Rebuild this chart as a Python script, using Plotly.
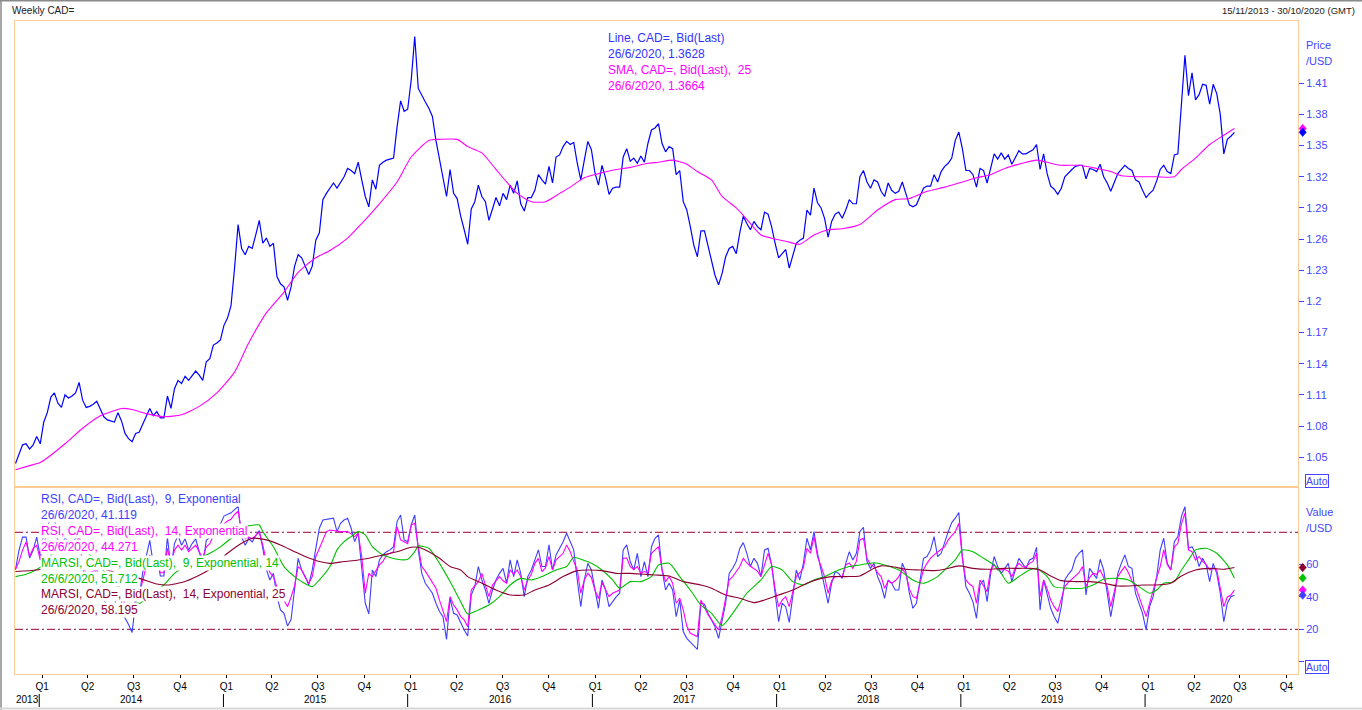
import pandas as pd
import plotly.graph_objects as go

# ---------------- data ----------------
START = "2013-11-15"            # first weekly bar
X_START, X_END = "2013-11-14", "2020-10-30"

# weekly close of CAD= (USD/CAD), 15/11/2013 ... 26/6/2020
price_close = [
    1.044, 1.054, 1.062, 1.063, 1.058, 1.062, 1.070, 1.063, 1.084, 1.093,
    1.108, 1.112, 1.102, 1.098, 1.110, 1.107, 1.109, 1.112, 1.122, 1.105,
    1.098, 1.099, 1.101, 1.104, 1.097, 1.089, 1.086, 1.085, 1.084, 1.093,
    1.085, 1.073, 1.068, 1.065, 1.073, 1.074, 1.082, 1.090, 1.097, 1.090,
    1.094, 1.088, 1.088, 1.109, 1.097, 1.116, 1.124, 1.121, 1.128, 1.124,
    1.128, 1.133, 1.129, 1.124, 1.142, 1.145, 1.158, 1.160, 1.163, 1.177,
    1.184, 1.196, 1.232, 1.274, 1.251, 1.245, 1.253, 1.251, 1.264, 1.278,
    1.256, 1.261, 1.253, 1.256, 1.224, 1.217, 1.214, 1.201, 1.214, 1.234,
    1.245, 1.242, 1.234, 1.226, 1.234, 1.259, 1.266, 1.298, 1.304, 1.309,
    1.314, 1.309, 1.315, 1.320, 1.328, 1.326, 1.323, 1.334, 1.317, 1.301,
    1.291, 1.317, 1.308, 1.331, 1.334, 1.336, 1.337, 1.338, 1.368, 1.393,
    1.383, 1.385, 1.413, 1.455, 1.405, 1.398, 1.392, 1.386, 1.378, 1.355,
    1.336, 1.320, 1.301, 1.327, 1.304, 1.299, 1.282, 1.269, 1.255, 1.289,
    1.296, 1.312, 1.301, 1.296, 1.278, 1.289, 1.300, 1.292, 1.304, 1.298,
    1.312, 1.304, 1.316, 1.294, 1.287, 1.300, 1.300, 1.307, 1.322, 1.317,
    1.313, 1.330, 1.314, 1.339, 1.341, 1.349, 1.354, 1.351, 1.353, 1.333,
    1.317, 1.336, 1.354, 1.346, 1.324, 1.312, 1.331, 1.319, 1.303, 1.309,
    1.310, 1.310, 1.339, 1.347, 1.335, 1.338, 1.333, 1.340, 1.334, 1.352,
    1.365, 1.367, 1.371, 1.352, 1.344, 1.349, 1.347, 1.322, 1.326, 1.296,
    1.288, 1.272, 1.254, 1.243, 1.268, 1.268, 1.253, 1.240, 1.225, 1.216,
    1.227, 1.243, 1.251, 1.253, 1.246, 1.266, 1.282, 1.275, 1.269, 1.277,
    1.272, 1.269, 1.286, 1.284, 1.272, 1.256, 1.242, 1.246, 1.250, 1.232,
    1.243, 1.256, 1.259, 1.261, 1.288, 1.283, 1.309, 1.295, 1.290, 1.280,
    1.262, 1.277, 1.284, 1.286, 1.280, 1.288, 1.298, 1.294, 1.294, 1.320,
    1.326, 1.315, 1.309, 1.317, 1.315, 1.306, 1.301, 1.314, 1.307, 1.304,
    1.306, 1.315, 1.304, 1.293, 1.291, 1.293, 1.301, 1.309, 1.311, 1.311,
    1.322, 1.315, 1.325, 1.330, 1.333, 1.338, 1.355, 1.363, 1.347, 1.326,
    1.326, 1.322, 1.310, 1.328, 1.326, 1.314, 1.328, 1.342, 1.337, 1.343,
    1.337, 1.341, 1.332, 1.339, 1.345, 1.342, 1.342, 1.344, 1.346, 1.351,
    1.327, 1.342, 1.323, 1.311, 1.308, 1.303, 1.309, 1.320, 1.324, 1.327,
    1.330, 1.331, 1.331, 1.318, 1.328, 1.327, 1.325, 1.332, 1.320, 1.314,
    1.306, 1.314, 1.323, 1.327, 1.331, 1.328, 1.326, 1.317, 1.315, 1.307,
    1.300, 1.304, 1.307, 1.316, 1.327, 1.331, 1.325, 1.323, 1.341, 1.342,
    1.387, 1.437, 1.398, 1.420, 1.394, 1.399, 1.409, 1.408, 1.390, 1.409,
    1.400, 1.380, 1.342, 1.356, 1.359, 1.3628,
]

# 25-week simple moving average, read at selected weeks (week no. since 15/11/2013)
sma_weeks = [0, 4, 7, 10, 14, 19, 24, 28, 30, 33, 37, 42, 47, 52, 57, 62, 66, 71, 76, 80,
             85, 89, 94, 98, 103, 108, 112, 117, 120, 125, 128, 132, 136, 139, 142, 146, 150,
             154, 157, 161, 165, 170, 174, 179, 182, 186, 190, 193, 197, 200, 204, 207, 211,
             215, 218, 222, 226, 230, 234, 239, 244, 249, 253, 258, 263, 268, 272, 276, 280,
             285, 289, 293, 296, 301, 306, 310, 313, 318, 323, 328, 330, 334, 338, 342, 345]
sma_values = [1.038, 1.042, 1.045, 1.052, 1.063, 1.078, 1.090, 1.095, 1.097, 1.096, 1.092,
              1.089, 1.091, 1.099, 1.112, 1.132, 1.160, 1.189, 1.209, 1.228, 1.242, 1.249,
              1.261, 1.275, 1.294, 1.315, 1.339, 1.355, 1.356, 1.356, 1.349, 1.343, 1.327,
              1.315, 1.304, 1.296, 1.296, 1.304, 1.310, 1.319, 1.323, 1.327, 1.329, 1.333,
              1.334, 1.336, 1.332, 1.325, 1.317, 1.301, 1.290, 1.279, 1.264, 1.260, 1.258,
              1.255, 1.264, 1.269, 1.270, 1.274, 1.288, 1.298, 1.299, 1.306, 1.310, 1.315,
              1.319, 1.322, 1.328, 1.333, 1.336, 1.333, 1.331, 1.331, 1.328, 1.325, 1.321,
              1.320, 1.320, 1.320, 1.327, 1.338, 1.351, 1.360, 1.3664]

# weekly RSI(9) and RSI(14)
rsi9_values = [
    57, 69, 77, 77, 64, 69, 77, 65, 80, 84,
    88, 89, 75, 70, 77, 73, 74, 76, 81, 58,
    50, 51, 54, 57, 47, 38, 35, 34, 33, 48,
    38, 27, 23, 18, 37, 40, 55, 66, 75, 60,
    65, 53, 53, 77, 58, 73, 78, 72, 76, 69,
    73, 76, 68, 60, 75, 77, 83, 84, 85, 90,
    91, 92, 94, 96, 77, 72, 76, 74, 78, 81,
    70, 57, 50.5, 54.6, 40, 32, 29.9, 22, 26, 44.3,
    63.9, 56.7, 52.6, 47.4, 56.7, 70.1, 82.5, 87.6, 88, 88.7,
    88.7, 80.4, 85.6, 87.6, 88.7, 82.5, 74.2, 79.4, 56.7, 36.1,
    29.5, 56.7, 52.6, 62.9, 66, 68, 69.1, 71.1, 86.6, 90.7,
    75.3, 74.2, 84.5, 90.7, 69.1, 54.6, 48.5, 45.4, 42.3, 36.1,
    31, 27.8, 13.8, 39.2, 29.9, 28.9, 23.7, 19.6, 15.9, 41.2,
    46.4, 58.8, 50.5, 44.3, 36.1, 44.3, 50.5, 54.6, 57.7, 48.5,
    62.9, 52.6, 62.9, 54.6, 40.2, 52.6, 56.7, 62.9, 69.1, 58.8,
    58.8, 72.2, 56.7, 66, 70.1, 74.2, 79.4, 74.2, 69.1, 50.5,
    34, 50.5, 60.8, 56.7, 44.3, 33, 50.5, 44.3, 34, 37.1,
    40, 42.3, 69.1, 72.2, 61.9, 56.7, 67, 52.6, 61.9, 52.6,
    71.1, 76.3, 78.4, 56.7, 44.3, 48.5, 44.3, 27.8, 38.1, 18.6,
    14.4, 12, 10, 7.6, 36.1, 35.5, 30, 26, 21.6, 14.4,
    24.7, 36.1, 54.6, 57.7, 62, 70, 73.6, 67, 58.8, 63.9,
    60.8, 52.6, 69.1, 70.1, 59.8, 40.2, 24.7, 36.1, 34, 24.3,
    40.2, 56.7, 50.5, 60.8, 76.3, 69.1, 80.4, 67, 56.7, 47.4,
    36.1, 48.5, 55.7, 54.6, 51.5, 60.8, 68, 62.9, 67, 80.4,
    83.1, 61.9, 57.7, 60.8, 52.6, 47.4, 39.2, 50.5, 48.5, 44.3,
    44.3, 60.8, 55.7, 42.3, 33, 36.1, 50.5, 63.9, 65, 69.1,
    77.3, 65, 67, 74.2, 80.4, 86, 88.7, 92.2, 65, 46.4,
    42.3, 37, 26.8, 47.4, 50.5, 37.1, 54.6, 65, 58.8, 54.6,
    58, 60.8, 49.5, 56.7, 63.9, 60.8, 57.7, 62.9, 63.9, 70.7,
    32, 50.5, 42.3, 33, 27.8, 23.7, 34, 50.5, 54, 56.7,
    63.9, 67, 69.1, 41.2, 57.7, 54.6, 51.5, 63.3, 56.7, 42.3,
    27.8, 40.2, 54.6, 60.8, 66, 58.8, 57.7, 42.3, 36, 29.9,
    19.6, 34, 40.2, 52.6, 69.1, 76.3, 60.8, 56.7, 74.2, 77.3,
    89.7, 95.9, 70.1, 71.1, 67, 58.8, 63.9, 59.8, 49.5, 60.8,
    54.6, 42.3, 24.7, 36.1, 40.2, 41.119,
]
rsi14_values = [
    57, 62, 69, 74, 65, 70, 72, 63, 74, 78,
    82, 83, 74, 70, 74, 71, 72, 73, 77, 60,
    54, 55, 56, 57, 51, 45, 42, 41, 40, 49,
    43, 35, 31, 28, 39, 41, 51, 59, 66, 58,
    61, 55, 55, 70, 60, 69, 72, 69, 72, 68,
    70, 72, 68, 64, 71, 73, 78, 79, 80, 85,
    87, 88, 91, 93, 80, 76, 77, 76, 78, 80,
    72, 62, 55, 52.6, 46, 42.3, 38, 34, 40, 47,
    58.8, 56.7, 52, 48.5, 52.6, 65, 70, 75.3, 80.4, 81.4,
    81, 80.4, 80.4, 80.4, 80.4, 79, 77.3, 79.4, 65, 42.3,
    54.6, 52.6, 56, 59.8, 62, 66, 67, 68, 83.5, 75.3,
    74.2, 73, 84.5, 85.6, 71.1, 58.8, 56, 52.6, 49, 45.4,
    38, 32, 24.7, 40.2, 35, 32, 28, 25.8, 21.6, 44.3,
    47, 49.5, 54.6, 47.4, 40.2, 47.4, 50, 52.6, 50, 48.5,
    56.7, 54, 56.7, 52.6, 44.3, 50.5, 54, 60.8, 63.9, 55.7,
    58, 65, 56.7, 62.9, 65, 67, 72.2, 68, 62, 56.7,
    42.3, 50.5, 54.6, 52, 44.3, 39, 49, 45, 40.2, 42.3,
    43.5, 44.3, 63.9, 64, 58.8, 57, 58.8, 54.6, 55.7, 55,
    67, 69, 71.1, 56.7, 49.5, 52.6, 48.5, 36.1, 39.2, 32,
    22, 17.5, 16.5, 15.5, 38.1, 33, 29, 26, 22.5, 19.6,
    27.8, 40, 50.5, 52.6, 56, 58.8, 63.9, 61, 59, 57.7,
    56, 52.6, 60, 67, 60, 45, 34, 38, 40.2, 34,
    43.3, 52.6, 55, 58, 70.1, 67, 77.3, 65, 59, 52.6,
    42.3, 50, 52.6, 52.6, 52.6, 59.8, 61, 57.7, 62, 75.3,
    76.3, 63.9, 60, 58.8, 55, 52.6, 45.4, 50, 48.5, 50,
    52.6, 57, 54.6, 45, 40.2, 39.2, 48.5, 57, 60.8, 64,
    66, 68, 69.5, 71.1, 75.3, 78, 80.4, 85.6, 63.9, 50.5,
    48, 46.4, 36.1, 50.5, 47, 43.3, 56.7, 60, 56.7, 56.7,
    57, 56, 52.6, 58, 60.8, 58.8, 58.5, 60.8, 62, 67,
    40.2, 50.5, 45, 38.1, 34, 30.9, 38, 46.4, 49, 51,
    52.6, 55, 58.8, 46.4, 52, 54.6, 54, 56.7, 52, 46.4,
    34, 44, 52.6, 56, 58.8, 55, 50, 46.4, 40, 34,
    27.8, 36, 44.3, 52, 58.8, 69.1, 60, 56.7, 71, 73.2,
    85, 91.8, 69.1, 68, 62.9, 65, 62, 60, 56.7, 58,
    56.7, 45, 34, 40, 41.2, 44.271,
]

# MARSI(9, EMA 14) and MARSI(14, EMA 25), read at selected weeks
marsi9_weeks = [0, 3, 6, 8, 11, 14, 17, 20, 23, 26, 29, 32, 35, 38, 42, 45, 48, 51, 55, 58,
                61, 64, 66, 69, 70, 73, 76, 79, 81, 84, 86, 89, 91, 93, 95, 97, 99, 101, 104,
                108, 111, 113, 114, 117, 120, 123, 126, 128, 131, 134, 137, 140, 143, 146,
                149, 153, 156, 158, 161, 163, 166, 169, 171, 174, 177, 180, 182, 185, 188,
                191, 194, 197, 200, 203, 207, 211, 214, 217, 220, 223, 226, 229, 233, 236,
                239, 243, 246, 250, 254, 257, 261, 263, 266, 268, 271, 274, 277, 279, 281,
                284, 287, 289, 292, 294, 298, 302, 305, 308, 312, 315, 318, 321, 323, 325,
                328, 330, 332, 334, 337, 340, 343, 345]
marsi9_values = [52.6, 54, 57, 60, 68, 72, 73, 68, 62, 53, 46, 41, 36, 41, 47.4, 54.6, 59, 63,
                 67, 71, 76.3, 82, 84, 84.5, 80.4, 71, 58.8, 52.6, 49.5, 46.4, 50.5, 58.8, 69.1,
                 74.2, 77.3, 80.4, 78.4, 71.1, 66, 63.3, 63.3, 68, 71.5, 70.1, 60.8, 49.5, 37.1,
                 29.5, 32, 35, 40.2, 47.4, 51.5, 50.5, 52.6, 56.7, 58.8, 64.5, 62.5, 60.8, 56.7,
                 50.5, 45.4, 49.5, 49.5, 52.6, 59.8, 60.8, 52.6, 44.3, 35, 29.9, 22.3, 29.9,
                 42.3, 50.5, 58.8, 56.7, 49.5, 47.4, 50.5, 52.6, 56.7, 58.8, 59.8, 61.2, 59.8,
                 56.7, 50.5, 48.5, 52.6, 56.7, 62.9, 69.1, 68, 63.9, 59.8, 54.6, 48.5, 52.6,
                 56.7, 57.7, 52.6, 46.4, 45.4, 45.4, 47.4, 50.9, 51.5, 50.5, 46.4, 42.3, 44.3,
                 48.5, 49.5, 56.7, 62.9, 69.1, 70.1, 67, 59.8, 51.712]
marsi14_weeks = [0, 6, 12, 18, 24, 30, 35, 40, 43, 48, 54, 60, 64, 67, 71, 75, 79, 82, 86, 89,
                 93, 97, 100, 104, 108, 112, 114, 117, 120, 123, 126, 128, 132, 136, 140, 144,
                 147, 151, 155, 159, 162, 166, 170, 174, 178, 181, 185, 189, 194, 197, 201, 205,
                 209, 212, 216, 220, 224, 228, 231, 235, 239, 243, 245, 248, 252, 256, 260, 263,
                 267, 271, 275, 280, 284, 287, 290, 293, 296, 300, 304, 308, 312, 315, 319, 323,
                 327, 330, 334, 338, 342, 345]
marsi14_values = [55.7, 56.7, 59, 61, 58, 54, 51.5, 48, 47.4, 49.5, 55.7, 67, 73.2, 76.3, 75.3,
                  72.2, 68, 65, 61.9, 60.8, 61.9, 62.9, 63.9, 66, 68, 70.7, 70.7, 68, 63.9, 58.8,
                  56.7, 52.6, 48.5, 44.3, 41.2, 41.2, 44.3, 47.4, 52.6, 56.3, 56.7, 56.3, 54.6,
                  54.6, 54, 53.6, 53, 49.5, 47.4, 45.4, 41.2, 39.2, 36.5, 38.1, 41.2, 44.3, 48.5,
                  51.5, 52.6, 52.6, 53, 57.7, 59.2, 58.8, 57.1, 56.7, 56.3, 57.1, 59.2, 57.7,
                  57.1, 57.7, 57.7, 57.7, 56.7, 53, 50.1, 49.5, 49.5, 48.5, 46.8, 46.8, 47.4,
                  47.4, 48.5, 53, 56.7, 57.7, 57.1, 58.195]

price_ticks = [1.05, 1.08, 1.11, 1.14, 1.17, 1.2, 1.23, 1.26, 1.29, 1.32, 1.35, 1.38, 1.41]
price_tick_text = ["1.05", "1.08", "1.11", "1.14", "1.17", "1.2", "1.23", "1.26", "1.29",
                   "1.32", "1.35", "1.38", "1.41"]
rsi_ticks = [0, 20, 40, 60]
rsi_tick_text = ["", "20", "40", "60"]     # the 0 label sits under the "Auto" box
rsi_levels = [80, 20]
years = [2013, 2014, 2015, 2016, 2017, 2018, 2019, 2020]

price_legend = ["Line, CAD=, Bid(Last)", "26/6/2020, 1.3628",
                "SMA, CAD=, Bid(Last),\u00a0 25", "26/6/2020, 1.3664"]
rsi_legend = ["RSI, CAD=, Bid(Last),\u00a0 9, Exponential", "26/6/2020, 41.119",
              "RSI, CAD=, Bid(Last),\u00a0 14, Exponential", "26/6/2020, 44.271",
              "MARSI, CAD=, Bid(Last),\u00a0 9, Exponential, 14", "26/6/2020, 51.712",
              "MARSI, CAD=, Bid(Last),\u00a0 14, Exponential, 25", "26/6/2020, 58.195"]

# ---------------- styling ----------------
W, H = 1362, 710
L, R, T, B = 15, 64, 21, 36
PW, PH = W - L - R, H - T - B
RSI_FRAC = 187 / PH
FONT = "Liberation Sans, Arial, sans-serif"
BLUE, MAG, GREEN, MAROON = "#0000FF", "#FF00FF", "#00C000", "#8B0030"
RSI_BLUE = "#3F3FFF"
AXBLUE = "#4545FF"
BORDER = "#FFCC99"


def px(xp):
    return (xp - L) / PW


def py(yp):
    return (T + PH - yp) / PH


def week_dates(weeks):
    return [pd.Timestamp(START) + pd.Timedelta(weeks=w) for w in weeks]


dates = pd.date_range(START, periods=len(price_close), freq="7D")

fig = go.Figure()
# price panel
fig.add_trace(go.Scatter(x=dates, y=price_close, mode="lines", line=dict(color=BLUE, width=1.2),
                         xaxis="x", yaxis="y", hoverinfo="skip"))
fig.add_trace(go.Scatter(x=week_dates(sma_weeks), y=sma_values, mode="lines",
                         line=dict(color=MAG, width=1.1, shape="spline", smoothing=0.6),
                         xaxis="x", yaxis="y", hoverinfo="skip"))
# RSI panel
fig.add_trace(go.Scatter(x=dates, y=rsi9_values, mode="lines", line=dict(color=RSI_BLUE, width=1.1),
                         xaxis="x2", yaxis="y2", hoverinfo="skip"))
fig.add_trace(go.Scatter(x=dates, y=rsi14_values, mode="lines", line=dict(color=MAG, width=1.1),
                         xaxis="x2", yaxis="y2", hoverinfo="skip"))
fig.add_trace(go.Scatter(x=week_dates(marsi9_weeks), y=marsi9_values, mode="lines",
                         line=dict(color=GREEN, width=1.1, shape="spline", smoothing=0.6),
                         xaxis="x2", yaxis="y2", hoverinfo="skip"))
fig.add_trace(go.Scatter(x=week_dates(marsi14_weeks), y=marsi14_values, mode="lines",
                         line=dict(color=MAROON, width=1.1, shape="spline", smoothing=0.6),
                         xaxis="x2", yaxis="y2", hoverinfo="skip"))

quarter_starts = pd.date_range("2014-01-01", "2020-10-01", freq="QS")
quarter_pos = [d + pd.Timedelta(days=6) for d in quarter_starts]
quarter_labels = [f"Q{d.quarter}" for d in quarter_starts]

axis_common = dict(showgrid=False, zeroline=False, showline=True, mirror=True,
                   linecolor=BORDER, linewidth=1)
fig.update_layout(
    width=W, height=H, margin=dict(l=L, r=R, t=T, b=B),
    paper_bgcolor="white", plot_bgcolor="white", showlegend=False,
    font=dict(family=FONT),
    xaxis=dict(domain=[0, 1], range=[X_START, X_END], anchor="y", showticklabels=False,
               ticks="", **axis_common),
    yaxis=dict(domain=[RSI_FRAC, 1], range=[1.02141, 1.4699], anchor="x", side="right",
               tickmode="array", tickvals=price_ticks, ticktext=price_tick_text,
               ticks="outside", ticklen=5, tickcolor=AXBLUE,
               tickfont=dict(size=11, color=AXBLUE, family=FONT), **axis_common),
    xaxis2=dict(domain=[0, 1], range=[X_START, X_END], anchor="y2", tickmode="array",
                tickvals=quarter_pos, ticktext=quarter_labels, ticks="outside", ticklen=3,
                tickcolor="black", tickwidth=1,
                tickfont=dict(size=10, color="black", family=FONT), **axis_common),
    yaxis2=dict(domain=[0, RSI_FRAC], range=[-7.64, 108.0], anchor="x2", side="right",
                tickmode="array", tickvals=rsi_ticks, ticktext=rsi_tick_text,
                ticks="outside", ticklen=5, tickcolor=AXBLUE,
                tickfont=dict(size=11, color=AXBLUE, family=FONT), **axis_common),
)

shapes = []
for lvl in rsi_levels:
    shapes.append(dict(type="line", xref="x2 domain", yref="y2", x0=0, x1=1, y0=lvl, y1=lvl,
                       line=dict(color="#990033", width=1, dash="8px,3px,2px,3px"), layer="below"))
for yr in years[1:]:
    shapes.append(dict(type="line", xref="x2", yref="paper", x0=f"{yr}-01-01", x1=f"{yr}-01-01",
                       y0=py(694), y1=py(707), line=dict(color="black", width=1)))
# last-value diamonds just right of the panels
DIAMOND = "M 0 4.2 L 3.6 0 L 0 -4.2 L -3.6 0 Z"
last_marks = [("y", sma_values[-1], MAG), ("y", price_close[-1], BLUE),
              ("y2", marsi14_values[-1], MAROON), ("y2", marsi9_values[-1], GREEN),
              ("y2", rsi14_values[-1], MAG), ("y2", rsi9_values[-1], RSI_BLUE)]
for yref, val, col in last_marks:
    shapes.append(dict(type="path", xref="paper", yref=yref, xsizemode="pixel", ysizemode="pixel",
                       xanchor=px(1302.7), yanchor=val, path=DIAMOND, fillcolor=col,
                       line=dict(color=col, width=0.6), layer="above"))
# window frame
shapes.append(dict(type="line", xref="paper", yref="paper", x0=px(0), x1=px(W), y0=py(0.8), y1=py(0.8),
                   line=dict(color="#8a8a8a", width=1.5)))
shapes.append(dict(type="line", xref="paper", yref="paper", x0=px(1), x1=px(1), y0=py(0), y1=py(H),
                   line=dict(color="#8a8a8a", width=1.5)))
shapes.append(dict(type="line", xref="paper", yref="paper", x0=px(0), x1=px(W), y0=py(708.5), y1=py(708.5),
                   line=dict(color="#d8d8d8", width=2)))
fig.update_layout(shapes=shapes)

ann = []
ann.append(dict(text="Weekly CAD=", xref="paper", yref="paper", x=px(10), y=py(10.5),
                xanchor="left", yanchor="middle", showarrow=False,
                font=dict(size=10, color="#222222")))
ann.append(dict(text="15/11/2013 - 30/10/2020 (GMT)", xref="paper", yref="paper", x=px(1357),
                y=py(10.5), xanchor="right", yanchor="middle", showarrow=False,
                font=dict(size=9.5, color="#222222")))
for i, txt in enumerate(price_legend):
    ann.append(dict(text=txt, xref="paper", yref="paper", x=px(606), y=py(37.7 + 16 * i),
                    xanchor="left", yanchor="middle", showarrow=False,
                    font=dict(size=12, color="#3333FF" if i < 2 else MAG)))
rsi_colors = [RSI_BLUE, RSI_BLUE, MAG, MAG, GREEN, GREEN, MAROON, MAROON]
for i, txt in enumerate(rsi_legend):
    ann.append(dict(text=txt, xref="paper", yref="paper", x=px(40), y=py(499 + 15.9 * i),
                    xanchor="left", yanchor="middle", showarrow=False, bgcolor="white",
                    borderpad=0, font=dict(size=12, color=rsi_colors[i])))
for txt, yp in [("Price", 45), ("/USD", 61), ("Value", 512), ("/USD", 528)]:
    ann.append(dict(text=txt, xref="paper", yref="paper", x=px(1304), y=py(yp),
                    xanchor="left", yanchor="middle", showarrow=False,
                    font=dict(size=11, color=AXBLUE)))
for yp in (480.5, 666.5):
    ann.append(dict(text="Auto", xref="paper", yref="paper", x=px(1317), y=py(yp),
                    xanchor="center", yanchor="middle", showarrow=False, bgcolor="white",
                    bordercolor=AXBLUE, borderwidth=1, borderpad=0,
                    font=dict(size=10.5, color=AXBLUE)))
# year labels, centred on the visible part of each year
x0, x1 = pd.Timestamp(X_START), pd.Timestamp(X_END)
for yr in years:
    a = max(pd.Timestamp(f"{yr}-01-01"), x0)
    b = min(pd.Timestamp(f"{yr + 1}-01-01"), x1)
    ann.append(dict(text=str(yr), xref="x2", yref="paper", x=a + (b - a) / 2, y=py(699.5),
                    xanchor="center", yanchor="middle", showarrow=False,
                    font=dict(size=10, color="black")))
fig.update_layout(annotations=ann)

fig.write_html("out.html", config={"displayModeBar": False},
               post_script="document.body.style.margin='0px';")
